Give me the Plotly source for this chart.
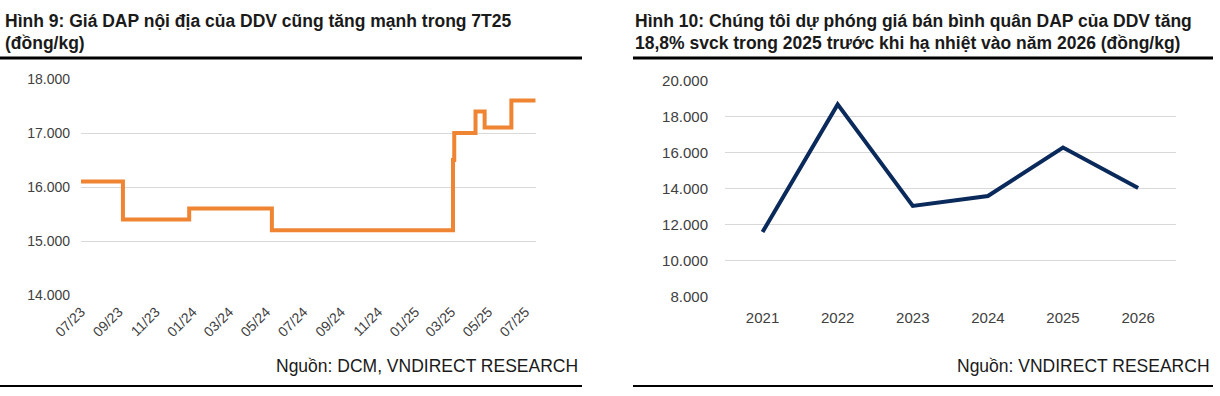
import plotly.graph_objects as go

W, H = 1220, 396

# ---- Data: left chart (DAP domestic price, step series) ----
dap_dates = ["2023-07-01", "2023-09-08", "2023-12-26", "2024-05-10", "2025-03-04",
             "2025-03-06", "2025-04-10", "2025-04-25", "2025-06-08", "2025-07-18"]
dap_values = [16100, 15400, 15600, 15200, 16500, 17000, 17400, 17100, 17600, 17600]
left_yticks = [14000, 15000, 16000, 17000, 18000]

# ---- Data: right chart (average DAP selling price) ----
years = ["2021", "2022", "2023", "2024", "2025", "2026"]
avg_price = [11600, 18700, 13050, 13600, 16300, 14050]
right_yticks = [8000, 10000, 12000, 14000, 16000, 18000, 20000]

FONT = "Liberation Sans, Arial, sans-serif"
ORANGE = "#EF8433"
NAVY = "#0B2A5C"
GRID = "#d9d9d9"
TICK = "#404040"


def px_x(x):
    return x / W


def px_y(y):
    return 1 - y / H


fig = go.Figure()

fig.add_trace(go.Scatter(x=dap_dates, y=dap_values, mode="lines", line_shape="hv",
                         line=dict(color=ORANGE, width=4), xaxis="x", yaxis="y",
                         showlegend=False, hoverinfo="x+y"))
fig.add_trace(go.Scatter(x=years, y=avg_price, mode="lines",
                         line=dict(color=NAVY, width=4), xaxis="x2", yaxis="y2",
                         showlegend=False))

fig.update_layout(
    template="none",
    width=W, height=H, margin=dict(l=0, r=0, t=0, b=0, pad=0, autoexpand=False),
    paper_bgcolor="white", plot_bgcolor="white",
    separators=",.", showlegend=False,
    font=dict(family=FONT, color=TICK),
    xaxis=dict(domain=[px_x(81), px_x(535.7)], type="date",
               range=["2023-07-01", "2025-07-18"],
               tick0="2023-07-01", dtick="M2", tickformat="%m/%y",
               tickangle=-45, showgrid=False, zeroline=False, showline=False,
               tickfont=dict(size=14, color=TICK), ticks="", ticklabelstandoff=5,
               automargin=False, anchor="y"),
    yaxis=dict(domain=[px_y(295), px_y(79)], range=[14000, 18000],
               tickvals=left_yticks, tickformat=",d",
               showgrid=True, gridcolor=GRID, gridwidth=1, zeroline=False,
               showline=False, ticks="", ticklabelstandoff=10,
               tickfont=dict(size=14, color=TICK), automargin=False, anchor="x"),
    xaxis2=dict(domain=[px_x(725), px_x(1175.7)], type="category",
                range=[-0.5, 5.5], showgrid=False, zeroline=False, showline=False,
                ticks="", ticklabelstandoff=10,
                tickfont=dict(size=15, color=TICK), automargin=False, anchor="y2"),
    yaxis2=dict(domain=[px_y(296.7), px_y(81)], range=[8000, 20000],
                tickvals=right_yticks, tickformat=",d",
                showgrid=True, gridcolor=GRID, gridwidth=1, zeroline=False,
                showline=False, ticks="", ticklabelstandoff=16,
                tickfont=dict(size=15, color=TICK), automargin=False, anchor="x2"),
)

TITLE_COLOR = "#1a1a1a"
annotations = [
    dict(text="Hình 9: Giá DAP nội địa của DDV cũng tăng mạnh trong 7T25",
         x=px_x(3), y=px_y(21), xanchor="left", yanchor="middle"),
    dict(text="(đồng/kg)", x=px_x(3), y=px_y(43), xanchor="left", yanchor="middle"),
    dict(text="Hình 10: Chúng tôi dự phóng giá bán bình quân DAP của DDV tăng",
         x=px_x(633), y=px_y(21), xanchor="left", yanchor="middle"),
    dict(text="18,8% svck trong 2025 trước khi hạ nhiệt vào năm 2026 (đồng/kg)",
         x=px_x(633), y=px_y(43), xanchor="left", yanchor="middle"),
]
for a in annotations:
    a.update(xref="paper", yref="paper", showarrow=False,
             font=dict(family=FONT, size=17.5, color=TITLE_COLOR), text="<b>" + a["text"] + "</b>")
for txt, xr in [("Nguồn: DCM, VNDIRECT RESEARCH", 580), ("Nguồn: VNDIRECT RESEARCH", 1212)]:
    annotations.append(dict(text=txt, x=px_x(xr), y=px_y(366), xref="paper", yref="paper",
                            xanchor="right", yanchor="middle", showarrow=False,
                            font=dict(family=FONT, size=17.5, color=TITLE_COLOR)))
fig.update_layout(annotations=annotations)

shapes = []
for x0, x1 in [(0, 582), (633, 1213)]:
    shapes.append(dict(type="line", xref="paper", yref="paper",
                       x0=px_x(x0), x1=px_x(x1), y0=px_y(58), y1=px_y(58),
                       line=dict(color="black", width=3)))
    shapes.append(dict(type="line", xref="paper", yref="paper",
                       x0=px_x(x0), x1=px_x(x1), y0=px_y(386), y1=px_y(386),
                       line=dict(color="black", width=2)))
fig.update_layout(shapes=shapes)

fig.write_html("out.html", config={"displayModeBar": False},
               post_script="document.body.style.margin='0';document.body.style.overflow='hidden';")
